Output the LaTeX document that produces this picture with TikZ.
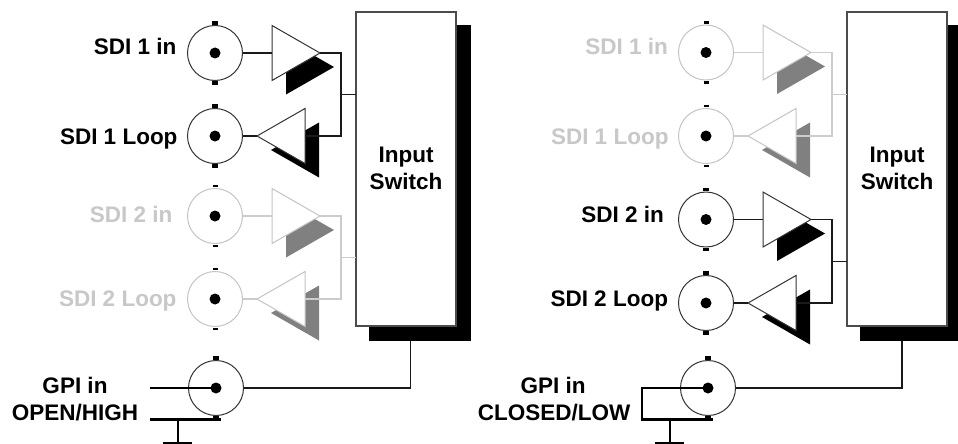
\documentclass[tikz,border=0pt]{standalone}
\usepackage{fontspec}
\setmainfont{Liberation Sans}
\usetikzlibrary{shapes.geometric}
\definecolor{wirecol}{HTML}{1A1A1A}
\definecolor{outlinecol}{HTML}{333333}
\definecolor{shadowcol}{HTML}{000000}
\definecolor{textcol}{HTML}{000000}
\newcommand{\stateOn}{\definecolor{wirecol}{HTML}{1A1A1A}\definecolor{outlinecol}{HTML}{333333}\definecolor{shadowcol}{HTML}{000000}\definecolor{textcol}{HTML}{000000}\def\wirew{1.4pt}\def\outlinew{1pt}\def\tickw{6.5pt}\def\tickh{3.5pt}}
\newcommand{\stateOff}{\definecolor{wirecol}{HTML}{CCCCCC}\definecolor{outlinecol}{HTML}{C4C4C4}\definecolor{shadowcol}{HTML}{808080}\definecolor{textcol}{HTML}{C8C8C8}\def\wirew{1.1pt}\def\outlinew{1pt}\def\tickw{5pt}\def\tickh{2.2pt}}
\def\wirew{1.4pt}\def\outlinew{1pt}\def\tickw{6.5pt}\def\tickh{3.5pt}
\tikzset{
  x=1pt,y=-1pt,
  bnc/.style={circle,draw=outlinecol,line width=\outlinew,fill=white,minimum size=55pt,inner sep=0pt,outer sep=0pt},
  pindot/.style={circle,fill=black,minimum size=11pt,inner sep=0pt,outer sep=0pt},
  bnctick/.style={rectangle,fill=black,minimum width=\tickw,minimum height=\tickh,inner sep=0pt,outer sep=0pt},
  ampbase/.style={isosceles triangle,isosceles triangle stretches,minimum height=48pt,minimum width=55pt,inner sep=0pt,outer sep=0pt,anchor=apex},
  amp/.style={ampbase,draw=outlinecol,line width=\outlinew,fill=white},
  ampshadow/.style={ampbase,fill=shadowcol},
  wire/.style={draw=wirecol,line width=\wirew},
  label/.style={font=\bfseries\fontsize{22.5}{27}\selectfont,text=textcol,inner sep=0pt,outer sep=0pt},
  switchbox/.style={rectangle,draw=black!70,line width=1.2pt,fill=white,minimum width=100pt,minimum height=314pt,inner sep=0pt,outer sep=0pt},
  switchshadow/.style={rectangle,fill=black,minimum width=102pt,minimum height=316pt,inner sep=0pt,outer sep=0pt},
  gpiwire/.style={draw=black,line width=2.4pt},
  outwire/.style={draw=black!90,line width=1.4pt},
}
% id, bnc x, row 1 y, row 2 y, switch node
\newcommand{\chan}[5]{%
  \node[bnc] (#1a) at (#2,#3) {};
  \node[bnc] (#1b) at (#2,#4) {};
  \node[pindot] (#1ad) at (#2,#3) {};
  \node[pindot] (#1bd) at (#2,#4) {};
  \node[bnctick] (#1at) at (#2,#3-30) {};
  \node[bnctick] (#1ab) at (#2,#3+30) {};
  \node[bnctick] (#1bt) at (#2,#4-30) {};
  \node[bnctick] (#1bb) at (#2,#4+30) {};
  \node[ampshadow] (#1as) at (#2+119,#3+14) {};
  \node[amp] (#1i) at (#2+105,#3) {};
  \node[ampshadow,shape border rotate=180] (#1bs) at (#2+56,#4+14) {};
  \node[amp,shape border rotate=180] (#1o) at (#2+42,#4) {};
  \coordinate (#1j) at (#2+126,{(#3+#4)/2});
  \draw[wire] (#1a.east) -- (#1i.lower side);
  \draw[wire] (#1b.east) -- (#1o.apex);
  \draw[wire] (#1i.apex) -| (#1j) |- (#1o.lower side);
  \draw[wire] (#1j) -- (#1j -| #5.west);
}
\newcommand{\gnd}[3]{%
  \coordinate (#1g) at (#2,419);
  \coordinate (#1f) at (#2,443);
  \coordinate (#1fl) at (#2-15,443);
  \coordinate (#1fr) at (#2+14,443);
  \draw[gpiwire] (#1g) -- (#1f);
  \draw[gpiwire] (#1fl) -- (#1fr);
}
\begin{document}
\begin{tikzpicture}
\useasboundingbox (0,0) rectangle (958,444);
\fill[white] (0,0) rectangle (958,444);
\clip (0,0) rectangle (958,444);

% ---- left panel ----
\node[switchshadow] (swLs) at (420,183) {};
\node[switchbox] (swL) at (406,169) {};
\node[label,text=black] (swLt1) at (406,162) [anchor=base] {Input};
\node[label,text=black] (swLt2) at (406,189) [anchor=base] {Switch};
\begin{scope}\stateOn
\chan{A}{215}{53}{136}{swL}
\node[label,anchor=base east] (lA1) at (176.5,55) {SDI 1 in};
\node[label,anchor=base east] (lA2) at (177.5,144) {SDI 1 Loop};
\end{scope}
\begin{scope}\stateOff
\chan{B}{215}{216}{299}{swL}
\node[label,anchor=base east] (lB1) at (172.5,222) {SDI 2 in};
\node[label,anchor=base east] (lB2) at (176.5,306) {SDI 2 Loop};
\end{scope}
\begin{scope}\stateOn
\node[bnc] (gL) at (216,388) {};
\node[pindot] (gLd) at (216,388) {};
\node[bnctick] (gLt) at (216,358) {};
\node[bnctick] (gLb) at (216,418) {};
\coordinate (gLo) at (150,388);
\coordinate (gLs) at (150,419.5);
\coordinate (gLe) at (221,419.5);
\draw[gpiwire] (gLo) -- (gLd);
\draw[gpiwire] (gLs) -- (gLe);
\coordinate (gLu) at (410.5,341);
\draw[outwire] (gL.east) -| (gLu);
\gnd{gL}{178}{}
\node[label,anchor=base] (lG1) at (75,393) {GPI in};
\node[label,anchor=base] (lG2) at (75,420) {OPEN/HIGH};
\end{scope}

% ---- right panel ----
\node[switchshadow] (swRs) at (911,183) {};
\node[switchbox] (swR) at (897,169) {};
\node[label,text=black] (swRt1) at (897,162) [anchor=base] {Input};
\node[label,text=black] (swRt2) at (897,189) [anchor=base] {Switch};
\begin{scope}\stateOff
\chan{C}{706}{52.5}{136}{swR}
\node[label,anchor=base east] (lC1) at (668,55) {SDI 1 in};
\node[label,anchor=base east] (lC2) at (668.5,144) {SDI 1 Loop};
\end{scope}
\begin{scope}\stateOn
\chan{D}{706}{219.5}{303}{swR}
\node[label,anchor=base east] (lD1) at (664,222) {SDI 2 in};
\node[label,anchor=base east] (lD2) at (668,306) {SDI 2 Loop};
\node[bnc] (gR) at (708,388) {};
\node[pindot] (gRd) at (708,388) {};
\node[bnctick] (gRt) at (708,358) {};
\node[bnctick] (gRb) at (708,418) {};
\coordinate (gRo) at (642,388);
\coordinate (gRs) at (642,419.5);
\coordinate (gRe) at (713,419.5);
\draw[gpiwire,line join=miter] (gRd) -- (gRo) -- (gRs) -- (gRe);
\coordinate (gRu) at (902,341);
\draw[outwire] (gR.east) -| (gRu);
\gnd{gR}{670}{}
\node[label,anchor=base] (lG3) at (553,393) {GPI in};
\node[label,anchor=base] (lG4) at (554,420) {CLOSED/LOW};
\end{scope}
\end{tikzpicture}
\end{document}
